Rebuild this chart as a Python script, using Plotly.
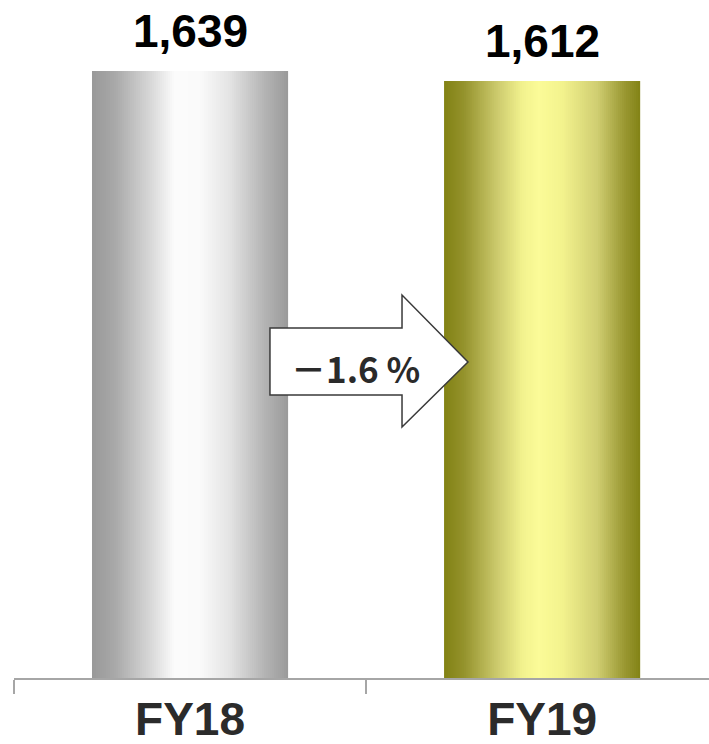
import plotly.graph_objects as go
from plotly.colors import sample_colorscale

# Net sales by fiscal year
categories = ["FY18", "FY19"]
values = [1639, 1612]
change_label = "－1.6 %"

# Cylinder-style horizontal shading for each bar
gray_scale = [
    [0.00, "#989898"], [0.12, "#a9a9a9"], [0.30, "#d8d8d8"], [0.42, "#fbfbfb"],
    [0.55, "#fafafa"], [0.70, "#e4e4e4"], [0.88, "#b4b4b4"], [1.00, "#9a9a9a"],
]
olive_scale = [
    [0.00, "#828214"], [0.10, "#94922c"], [0.28, "#cfcd70"], [0.40, "#f2f28e"],
    [0.48, "#fbfb98"], [0.60, "#f3f38e"], [0.78, "#d0ce72"], [0.92, "#9a9832"],
    [1.00, "#838316"],
]
scales = [gray_scale, olive_scale]

BAR_W = 0.557
N_SLICES = 98
step = BAR_W / N_SLICES

fig = go.Figure()
for i in range(N_SLICES):
    t = (i + 0.5) / N_SLICES
    off = -BAR_W / 2 + i * step
    w = min(step * 1.8, BAR_W / 2 - off)
    colors = [sample_colorscale(s, [t])[0] for s in scales]
    fig.add_trace(go.Bar(
        x=categories, y=values,
        offset=off, width=w,
        marker=dict(color=colors, line=dict(width=0)),
        hoverinfo="skip", showlegend=False,
    ))

# Value labels above the bars
for cat, val in zip(categories, values):
    fig.add_annotation(
        x=cat, y=val, text=f"{val:,}", showarrow=False,
        yanchor="bottom", yshift=12,
        font=dict(family="Liberation Sans, Arial, sans-serif", size=46,
                  color="#000000", weight="bold"),
    )

# Block arrow showing the year-on-year change
ax = [0.3683, 0.5583, 0.5583, 0.6532, 0.5583, 0.5583, 0.3683]
ay = [0.5162, 0.5162, 0.5649, 0.4661, 0.3702, 0.4174, 0.4174]
path = "M " + " L ".join(f"{x},{y}" for x, y in zip(ax, ay)) + " Z"
fig.add_shape(
    type="path", path=path, xref="paper", yref="paper",
    fillcolor="#ffffff", line=dict(color="#3a3a3a", width=1.5), layer="above",
)
fig.add_annotation(
    x=0.492, y=0.458, xref="paper", yref="paper", text=change_label,
    showarrow=False, xanchor="center", yanchor="middle",
    font=dict(family="Noto Sans CJK JP, sans-serif", size=35, color="#2a2a2a",
              weight="bold"),
)

fig.update_layout(
    width=709, height=744,
    margin=dict(l=14, r=0, t=0, b=66),
    paper_bgcolor="#ffffff", plot_bgcolor="#ffffff",
    barmode="overlay",
    xaxis=dict(
        type="category", range=[-0.5, 1.474],
        showline=True, linecolor="#a6a6a6", linewidth=1.5,
        ticks="outside", tickson="boundaries", ticklen=14,
        tickcolor="#a6a6a6", tickwidth=1.5,
        showgrid=False, zeroline=False,
        tickfont=dict(family="Liberation Sans, Arial, sans-serif", size=46,
                      color="#2b2b2b", weight="bold"),
    ),
    yaxis=dict(range=[0, 1831], visible=False),
)

fig.write_html("out.html")
